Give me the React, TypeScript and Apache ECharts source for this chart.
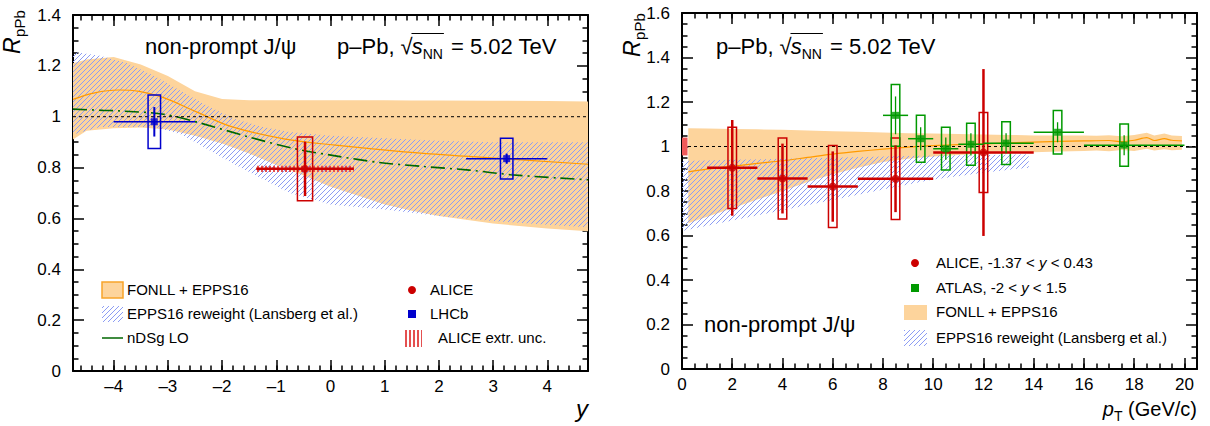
import React, { useEffect, useRef } from "react";
import * as echarts from "echarts";

// ---------------- Left panel: R_pPb vs rapidity y ----------------
const fonllYx = [-4.75, -4.5, -4.0, -3.5, -3.0, -2.5, -2.0, -1.5, -1.0, -0.5, 0.0, 0.5, 1.0, 1.5, 2.0, 3.0, 4.0, 4.75];
const fonllYhi = [1.21, 1.225, 1.235, 1.205, 1.16, 1.1, 1.07, 1.065, 1.065, 1.065, 1.065, 1.065, 1.065, 1.064, 1.064, 1.063, 1.062, 1.06];
const fonllYlo = [0.91, 0.945, 0.955, 0.958, 0.95, 0.925, 0.895, 0.855, 0.81, 0.77, 0.725, 0.69, 0.655, 0.63, 0.61, 0.58, 0.56, 0.55];
const fonllYcx = [-4.75, -4.35, -3.91, -3.53, -3.08, -2.45, -1.81, -0.86, 0.09, 1.36, 2.62, 4.75];
const fonllYc = [1.068, 1.094, 1.105, 1.1, 1.075, 1.017, 0.96, 0.913, 0.888, 0.862, 0.843, 0.813];
const eppsYx = [-4.75, -4.25, -3.75, -3.25, -2.75, -2.25, -1.75, -1.25, -0.75, 0.0, 1.0, 2.0, 3.0, 4.0, 4.75];
const eppsYhi = [1.255, 1.24, 1.21, 1.16, 1.1, 1.04, 0.99, 0.96, 0.94, 0.925, 0.915, 0.905, 0.9, 0.9, 0.9];
const eppsYlo = [0.93, 0.96, 0.96, 0.96, 0.93, 0.87, 0.81, 0.755, 0.7, 0.655, 0.635, 0.61, 0.59, 0.575, 0.565];
const ndsgX = [-4.75, -4.2, -3.9, -3.08, -2.45, -1.5, -0.68, 0.09, 0.9, 1.73, 2.56, 3.32, 4.2, 4.75];
const ndsgY = [1.03, 1.025, 1.023, 1.01, 0.978, 0.92, 0.875, 0.846, 0.82, 0.804, 0.79, 0.772, 0.759, 0.752];

const lhcbX = [-3.25, 3.25];
const lhcbY = [0.98, 0.835];
const lhcbStat = [0.058, 0.02];
const lhcbSyst = [0.105, 0.08];
const lhcbXlo = [-4.0, 2.5];
const lhcbXhi = [-2.5, 4.0];

const aliceYX = [-0.47];
const aliceYY = [0.795];
const aliceYStat = [0.107];
const aliceYSyst = [0.125];
const aliceYXlo = [-1.37];
const aliceYXhi = [0.43];
const aliceYExtr = [0.012];

// ---------------- Right panel: R_pPb vs pT ----------------
const fonllPtX = [0.25, 1, 2, 3, 4, 5, 6, 7, 8, 9, 10, 11, 12, 13, 14, 15, 16, 16.5, 17, 17.5, 18, 18.5, 18.8, 19.2, 19.5, 19.9];
const fonllPtHi = [1.082, 1.081, 1.079, 1.077, 1.075, 1.072, 1.069, 1.066, 1.063, 1.06, 1.058, 1.056, 1.054, 1.052, 1.05, 1.05, 1.05, 1.048, 1.051, 1.046, 1.052, 1.062, 1.05, 1.058, 1.05, 1.047];
const fonllPtLo = [0.655, 0.684, 0.723, 0.762, 0.8, 0.84, 0.875, 0.905, 0.93, 0.945, 0.955, 0.962, 0.967, 0.97, 0.974, 0.977, 0.98, 0.982, 0.979, 0.984, 0.98, 0.99, 0.982, 0.988, 0.983, 0.985];
const fonllPtCx = [0.25, 1, 2, 3, 4, 5, 6, 7, 8, 9, 10, 12, 14, 16, 17, 17.5, 18, 18.5, 18.8, 19.2, 19.5, 19.9];
const fonllPtC = [0.886, 0.898, 0.911, 0.924, 0.936, 0.951, 0.966, 0.978, 0.988, 0.997, 1.004, 1.012, 1.02, 1.025, 1.027, 1.022, 1.028, 1.04, 1.027, 1.035, 1.028, 1.025];
const eppsPtX = [0, 2, 4, 6, 8, 10, 12, 13.8];
const eppsPtHi = [0.935, 0.94, 0.945, 0.95, 0.955, 0.96, 0.962, 0.965];
const eppsPtLo = [0.62, 0.667, 0.713, 0.76, 0.807, 0.852, 0.882, 0.905];

const alicePtX = [2, 4, 6, 8.5, 12];
const alicePtXlo = [1, 3, 5, 7, 10];
const alicePtXhi = [3, 5, 7, 10, 14];
const alicePtY = [0.904, 0.856, 0.82, 0.855, 0.973];
const alicePtStat = [0.215, 0.157, 0.158, 0.15, 0.375];
const alicePtSyst = [0.183, 0.182, 0.184, 0.183, 0.18];
const aliceGlobal = [0.04];

const atlasX = [8.5, 9.5, 10.5, 11.5, 12.9, 14.95, 17.6];
const atlasXlo = [8, 9, 10, 11, 12, 14, 16];
const atlasXhi = [9, 10, 11, 12, 14, 16, 20];
const atlasY = [1.14, 1.035, 0.99, 1.01, 1.015, 1.064, 1.006];
const atlasStat = [0.085, 0.052, 0.05, 0.05, 0.045, 0.045, 0.045];
const atlasSyst = [0.139, 0.106, 0.096, 0.094, 0.096, 0.098, 0.095];

// ---------------- styles ----------------
const FONT = '"Liberation Sans", Arial, Helvetica, sans-serif';
const ORANGE_FILL = "#fdd49c";
const ORANGE_EDGE = "#f7a42a";
const ORANGE_LINE = "#ff9a00";
const HATCH_RGB = [140, 156, 244];
const RED = "#cc0000";
const BLUE = "#0000cc";
const GREEN = "#009900";
const DKGREEN = "#006600";
const TITLE = 22;
const LEG = 15;

let measureCtx: CanvasRenderingContext2D | null = null;
function measure(t: string, size: number, italic = false) {
  if (!measureCtx) measureCtx = document.createElement("canvas").getContext("2d");
  measureCtx!.font = `${italic ? "italic " : ""}${size}px ${FONT}`;
  return measureCtx!.measureText(t).width;
}

function hatchPattern(rgb: number[]) {
  const s = 5;
  const c = document.createElement("canvas");
  c.width = s;
  c.height = s;
  const g = c.getContext("2d")!;
  const img = g.createImageData(s, s);
  for (let y = 0; y < s; y++) {
    const x = s - 1 - y;
    const k = (y * s + x) * 4;
    img.data[k] = rgb[0];
    img.data[k + 1] = rgb[1];
    img.data[k + 2] = rgb[2];
    img.data[k + 3] = 255;
  }
  g.putImageData(img, 0, 0);
  return { image: c, repeat: "repeat", imageWidth: s, imageHeight: s };
}

function vlinePattern(rgb: number[]) {
  const c = document.createElement("canvas");
  c.width = 4;
  c.height = 4;
  const g = c.getContext("2d")!;
  const img = g.createImageData(4, 4);
  for (let y = 0; y < 4; y++) {
    for (const x of [1, 2]) {
      const k = (y * 4 + x) * 4;
      img.data[k] = rgb[0];
      img.data[k + 1] = rgb[1];
      img.data[k + 2] = rgb[2];
      img.data[k + 3] = 255;
    }
  }
  g.putImageData(img, 0, 0);
  return { image: c, repeat: "repeat", imageWidth: 4, imageHeight: 4 };
}

function txt(x: number, baseline: number, t: string, size: number, o: any = {}) {
  return {
    type: "text",
    x,
    y: baseline - 0.35 * size,
    silent: true,
    z: 100,
    style: {
      text: t,
      fontSize: size,
      fontFamily: FONT,
      fontStyle: o.italic ? "italic" : "normal",
      fill: o.color || "#000",
      align: o.align || "left",
      verticalAlign: "middle",
      rich: o.rich,
    },
  };
}

function energyTitle(x0: number, by: number, size: number) {
  const sub = Math.round(size * 0.62);
  const els: any[] = [];
  let x = x0;
  const add = (t: string, sz: number, italic: boolean, dy = 0) => {
    els.push(txt(x, by + dy, t, sz, { italic }));
    x += measure(t, sz, italic);
  };
  add("p\u2013Pb, ", size, false);
  const r0 = x;
  const wr = measure("\u221A", size, false);
  els.push(txt(x, by, "\u221A", size, {}));
  x += wr - 1;
  add("s", size, true);
  add("NN", sub, false, size * 0.24);
  const rEnd = x + 1;
  els.push({
    type: "line",
    silent: true,
    z: 100,
    shape: { x1: r0 + wr - 1.2, y1: by - size * 0.93, x2: rEnd, y2: by - size * 0.93 },
    style: { stroke: "#000", lineWidth: 1.1 },
  });
  x += 2;
  add(" = 5.02 TeV", size, false);
  return els;
}

function rpPbTitle(x: number, y: number) {
  const sR = 23;
  const sSub = 15;
  const wR = measure("R", sR, true);
  return {
    type: "group",
    x,
    y,
    rotation: Math.PI / 2,
    children: [txt(0, 0, "R", sR, { italic: true }), txt(wR + 0.5, 5, "pPb", sSub)],
  };
}

function subTitleRight(xRight: number, by: number) {
  const s = 20;
  const ss = 14;
  const w1 = measure("p", s, true);
  const w2 = measure("T", ss);
  const w3 = measure(" (GeV/c)", s);
  const x0 = xRight - (w1 + w2 + w3);
  return [txt(x0, by, "p", s, { italic: true }), txt(x0 + w1, by + 5, "T", ss), txt(x0 + w1 + w2, by, " (GeV/c)", s)];
}

// ---------------- series builders ----------------
function bandSeries(xs: number[], lo: number[], hi: number[], fill: any, xi: number, z: number) {
  return {
    type: "custom",
    xAxisIndex: xi,
    yAxisIndex: xi,
    clip: true,
    silent: true,
    z,
    data: [[xs[0], lo[0]]],
    renderItem: (_p: any, api: any) => {
      const top = xs.map((x, i) => api.coord([x, hi[i]]));
      const bot = xs.map((x, i) => api.coord([x, lo[i]])).reverse();
      return { type: "polygon", shape: { points: top.concat(bot) }, style: { fill, stroke: null } };
    },
  };
}

function lineSeries(xs: number[], ys: number[], color: string, width: number, type: any, xi: number, z: number, smooth: any = false) {
  return {
    type: "line",
    xAxisIndex: xi,
    yAxisIndex: xi,
    data: xs.map((x, i) => [x, ys[i]]),
    symbol: "none",
    smooth,
    silent: true,
    z,
    lineStyle: { color, width, type },
  };
}

function boxSeries(xs: number[], ys: number[], errs: number[], halfW: number, color: string, xi: number, lw: number) {
  return {
    type: "custom",
    xAxisIndex: xi,
    yAxisIndex: xi,
    clip: true,
    silent: true,
    z: 6,
    data: xs.map((x, i) => [x, ys[i], errs[i]]),
    renderItem: (_p: any, api: any) => {
      const x = api.value(0), y = api.value(1), e = api.value(2);
      const a = api.coord([x - halfW, y + e]);
      const b = api.coord([x + halfW, y - e]);
      return {
        type: "rect",
        shape: { x: a[0], y: a[1], width: b[0] - a[0], height: b[1] - a[1] },
        style: { fill: "none", stroke: color, lineWidth: lw },
      };
    },
  };
}

function errSeries(xs: number[], ys: number[], stat: number[], xlo: number[], xhi: number[], color: string, xi: number, lw: number, hlw: number) {
  return {
    type: "custom",
    xAxisIndex: xi,
    yAxisIndex: xi,
    clip: true,
    silent: true,
    z: 7,
    data: xs.map((x, i) => [x, ys[i], stat[i], xlo[i], xhi[i]]),
    renderItem: (_p: any, api: any) => {
      const x = api.value(0), y = api.value(1), e = api.value(2), lo = api.value(3), hi = api.value(4);
      const a = api.coord([x, y + e]);
      const b = api.coord([x, y - e]);
      const c = api.coord([lo, y]);
      const d = api.coord([hi, y]);
      return {
        type: "group",
        children: [
          { type: "line", shape: { x1: a[0], y1: a[1], x2: b[0], y2: b[1] }, style: { stroke: color, lineWidth: lw } },
          { type: "line", shape: { x1: c[0], y1: c[1], x2: d[0], y2: d[1] }, style: { stroke: color, lineWidth: hlw } },
        ],
      };
    },
  };
}

function markerSeries(xs: number[], ys: number[], symbol: string, size: number, color: string, xi: number) {
  return {
    type: "scatter",
    xAxisIndex: xi,
    yAxisIndex: xi,
    data: xs.map((x, i) => [x, ys[i]]),
    symbol,
    symbolSize: size,
    silent: true,
    z: 8,
    itemStyle: { color, borderWidth: 0 },
  };
}

// ---------------- axes ----------------
const LAB = { fontSize: 17, fontFamily: FONT, color: "#000" };

function xAx(grid: number, min: number, max: number, position: string, step: number, major: boolean, labels: boolean) {
  return {
    type: "value",
    gridIndex: grid,
    position,
    min,
    max,
    splitNumber: Math.round((max - min) / step),
    minInterval: step,
    maxInterval: step,
    axisLine: { show: major, onZero: false, lineStyle: { color: "#000", width: 2 } },
    axisTick: { show: true, inside: true, length: major ? 11 : 5.5, lineStyle: { color: "#000", width: 1.5 } },
    minorTick: { show: false },
    splitLine: { show: false },
    axisLabel: {
      show: labels,
      margin: 7,
      ...LAB,
      formatter: (v: number) => {
        if (Math.abs(v / step - Math.round(v / step)) > 1e-6) return "";
        const r = Math.round(v * 100) / 100;
        return r < 0 ? "\u2013" + Math.abs(r) : String(r);
      },
    },
  };
}

function yAx(grid: number, max: number, position: string, labels: boolean) {
  return {
    type: "value",
    gridIndex: grid,
    position,
    min: 0,
    max,
    interval: 0.2,
    axisLine: { show: true, onZero: false, lineStyle: { color: "#000", width: 2 } },
    axisTick: { show: true, inside: true, length: 11, lineStyle: { color: "#000", width: 1.5 } },
    minorTick: { show: true, splitNumber: 4, length: 5.5, lineStyle: { color: "#000", width: 1.5 } },
    splitLine: { show: false },
    axisLabel: {
      show: labels,
      margin: 12,
      ...LAB,
      formatter: (v: number) => String(Math.round(v * 10) / 10),
    },
  };
}

const GL = { left: 73, right: 622, top: 15, bottom: 55 };
const GR = { left: 682, right: 13, top: 13, bottom: 57 };

export default function App() {
  const ref = useRef<HTMLDivElement>(null);
  useEffect(() => {
    if (!ref.current) return;
    const chart = echarts.init(ref.current, undefined, { renderer: "svg" });
    const hatch = hatchPattern(HATCH_RGB);
    const vlines = vlinePattern([228, 80, 80]);
    const ri = { i: { fontStyle: "italic", fontSize: LEG, fontFamily: FONT } };

    const legendL: any[] = [
      { type: "rect", shape: { x: 102, y: 282, width: 21, height: 16 }, style: { fill: ORANGE_FILL, stroke: ORANGE_EDGE, lineWidth: 1.5 }, z: 100 },
      txt(127, 295, "FONLL + EPPS16", LEG),
      { type: "rect", shape: { x: 102, y: 306, width: 21, height: 16 }, style: { fill: hatch }, z: 100 },
      txt(127, 319, "EPPS16 reweight (Lansberg et al.)", LEG),
      { type: "line", shape: { x1: 102, y1: 338, x2: 123, y2: 338 }, style: { stroke: DKGREEN, lineWidth: 1.5 }, z: 100 },
      txt(127, 343, "nDSg LO", LEG),
      { type: "circle", shape: { cx: 412, cy: 290, r: 4 }, style: { fill: RED }, z: 100 },
      txt(430, 295, "ALICE", LEG),
      { type: "rect", shape: { x: 408, y: 310, width: 8, height: 8 }, style: { fill: BLUE }, z: 100 },
      txt(430, 319, "LHCb", LEG),
      { type: "rect", shape: { x: 403, y: 330, width: 19, height: 17 }, style: { fill: vlines }, z: 100 },
      txt(438, 343, "ALICE extr. unc.", LEG),
    ];
    const legendR: any[] = [
      { type: "circle", shape: { cx: 915, cy: 263, r: 4 }, style: { fill: RED }, z: 100 },
      txt(936, 268, "ALICE, -1.37 < {i|y} < 0.43", LEG, { rich: ri }),
      { type: "rect", shape: { x: 911, y: 284, width: 8, height: 8 }, style: { fill: GREEN }, z: 100 },
      txt(936, 293, "ATLAS, -2 < {i|y} < 1.5", LEG, { rich: ri }),
      { type: "rect", shape: { x: 904, y: 305, width: 23, height: 15 }, style: { fill: ORANGE_FILL }, z: 100 },
      txt(936, 317, "FONLL + EPPS16", LEG),
      { type: "rect", shape: { x: 904, y: 330, width: 23, height: 16 }, style: { fill: hatch }, z: 100 },
      txt(936, 343, "EPPS16 reweight (Lansberg et al.)", LEG),
    ];

    const graphics: any[] = [
      txt(145, 54, "non-prompt J/\u03C8", TITLE),
      ...energyTitle(337, 54, TITLE),
      ...energyTitle(716, 54, TITLE),
      txt(704, 332, "non-prompt J/\u03C8", TITLE),
      rpPbTitle(20, 54),
      rpPbTitle(640, 57),
      txt(588, 417, "y", 24, { italic: true, align: "right" }),
      ...subTitleRight(1197, 416),
      ...legendL,
      ...legendR,
    ];

    const option: any = {
      animation: false,
      backgroundColor: "#ffffff",
      grid: [
        { ...GL, containLabel: false },
        { ...GR, containLabel: false },
        { ...GL, containLabel: false },
        { ...GR, containLabel: false },
      ],
      xAxis: [
        xAx(0, -4.75, 4.75, "bottom", 1, true, true),
        xAx(0, -4.75, 4.75, "top", 1, true, false),
        xAx(1, 0, 20.5, "bottom", 2, true, true),
        xAx(1, 0, 20.5, "top", 2, true, false),
        xAx(2, -4.75, 4.75, "bottom", 0.2, false, false),
        xAx(2, -4.75, 4.75, "top", 0.2, false, false),
        xAx(3, 0, 20.5, "bottom", 0.5, false, false),
        xAx(3, 0, 20.5, "top", 0.5, false, false),
      ],
      yAxis: [
        yAx(0, 1.4, "left", true),
        yAx(0, 1.4, "right", false),
        yAx(1, 1.6, "left", true),
        yAx(1, 1.6, "right", false),
        { type: "value", gridIndex: 2, min: 0, max: 1.4, show: false },
        { type: "value", gridIndex: 3, min: 0, max: 1.6, show: false },
      ],
      series: [
        // left panel (axis index 0)
        bandSeries(fonllYx, fonllYlo, fonllYhi, ORANGE_FILL, 0, 1),
        bandSeries(eppsYx, eppsYlo, eppsYhi, hatch, 0, 2),
        lineSeries(fonllYcx, fonllYc, ORANGE_LINE, 1.2, "solid", 0, 3, 0.4),
        lineSeries(ndsgX, ndsgY, DKGREEN, 1.6, [14, 5, 2, 5], 0, 3, 0.3),
        lineSeries([-4.75, 4.75], [1, 1], "#000", 1, [3, 3], 0, 4),
        {
          type: "custom",
          xAxisIndex: 0,
          yAxisIndex: 0,
          clip: true,
          silent: true,
          z: 5,
          data: aliceYX.map((x, i) => [aliceYXlo[i], aliceYXhi[i], aliceYY[i], aliceYExtr[i]]),
          renderItem: (_p: any, api: any) => {
            const a = api.coord([api.value(0), api.value(2) + api.value(3)]);
            const b = api.coord([api.value(1), api.value(2) - api.value(3)]);
            return { type: "rect", shape: { x: a[0], y: a[1], width: b[0] - a[0], height: b[1] - a[1] }, style: { fill: vlines } };
          },
        },
        boxSeries(lhcbX, lhcbY, lhcbSyst, 0.115, BLUE, 0, 1.5),
        boxSeries(aliceYX, aliceYY, aliceYSyst, 0.14, RED, 0, 1.5),
        errSeries(lhcbX, lhcbY, lhcbStat, lhcbXlo, lhcbXhi, BLUE, 0, 2, 1.5),
        errSeries(aliceYX, aliceYY, aliceYStat, aliceYXlo, aliceYXhi, RED, 0, 2.5, 2.5),
        markerSeries(lhcbX, lhcbY, "rect", 7, BLUE, 0),
        markerSeries(aliceYX, aliceYY, "circle", 8, RED, 0),
        // right panel (axis index 2)
        bandSeries(fonllPtX, fonllPtLo, fonllPtHi, ORANGE_FILL, 2, 1),
        bandSeries(eppsPtX, eppsPtLo, eppsPtHi, hatch, 2, 2),
        lineSeries(fonllPtCx, fonllPtC, ORANGE_LINE, 1.2, "solid", 2, 3, 0.3),
        lineSeries([0, 20.5], [1, 1], "#000", 1, [3, 3], 2, 4),
        {
          type: "custom",
          xAxisIndex: 2,
          yAxisIndex: 2,
          clip: true,
          silent: true,
          z: 5,
          data: aliceGlobal.map((g) => [0, g]),
          renderItem: (_p: any, api: any) => {
            const a = api.coord([0, 1 + api.value(1)]);
            const b = api.coord([0.22, 1 - api.value(1)]);
            return { type: "rect", shape: { x: a[0], y: a[1], width: b[0] - a[0], height: b[1] - a[1] }, style: { fill: "#f05a5a" } };
          },
        },
        boxSeries(alicePtX, alicePtY, alicePtSyst, 0.17, RED, 2, 1.5),
        boxSeries(atlasX, atlasY, atlasSyst, 0.17, GREEN, 2, 1.5),
        errSeries(alicePtX, alicePtY, alicePtStat, alicePtXlo, alicePtXhi, RED, 2, 2.5, 2.5),
        errSeries(atlasX, atlasY, atlasStat, atlasXlo, atlasXhi, GREEN, 2, 1.3, 1.5),
        markerSeries(alicePtX, alicePtY, "circle", 8, RED, 2),
        markerSeries(atlasX, atlasY, "rect", 7, GREEN, 2),
      ],
      graphic: { elements: graphics },
    };
    chart.setOption(option);
    return () => chart.dispose();
  }, []);
  return <div ref={ref} style={{ position: "absolute", left: 0, top: 0, width: 1210, height: 426, background: "#fff" }} />;
}
